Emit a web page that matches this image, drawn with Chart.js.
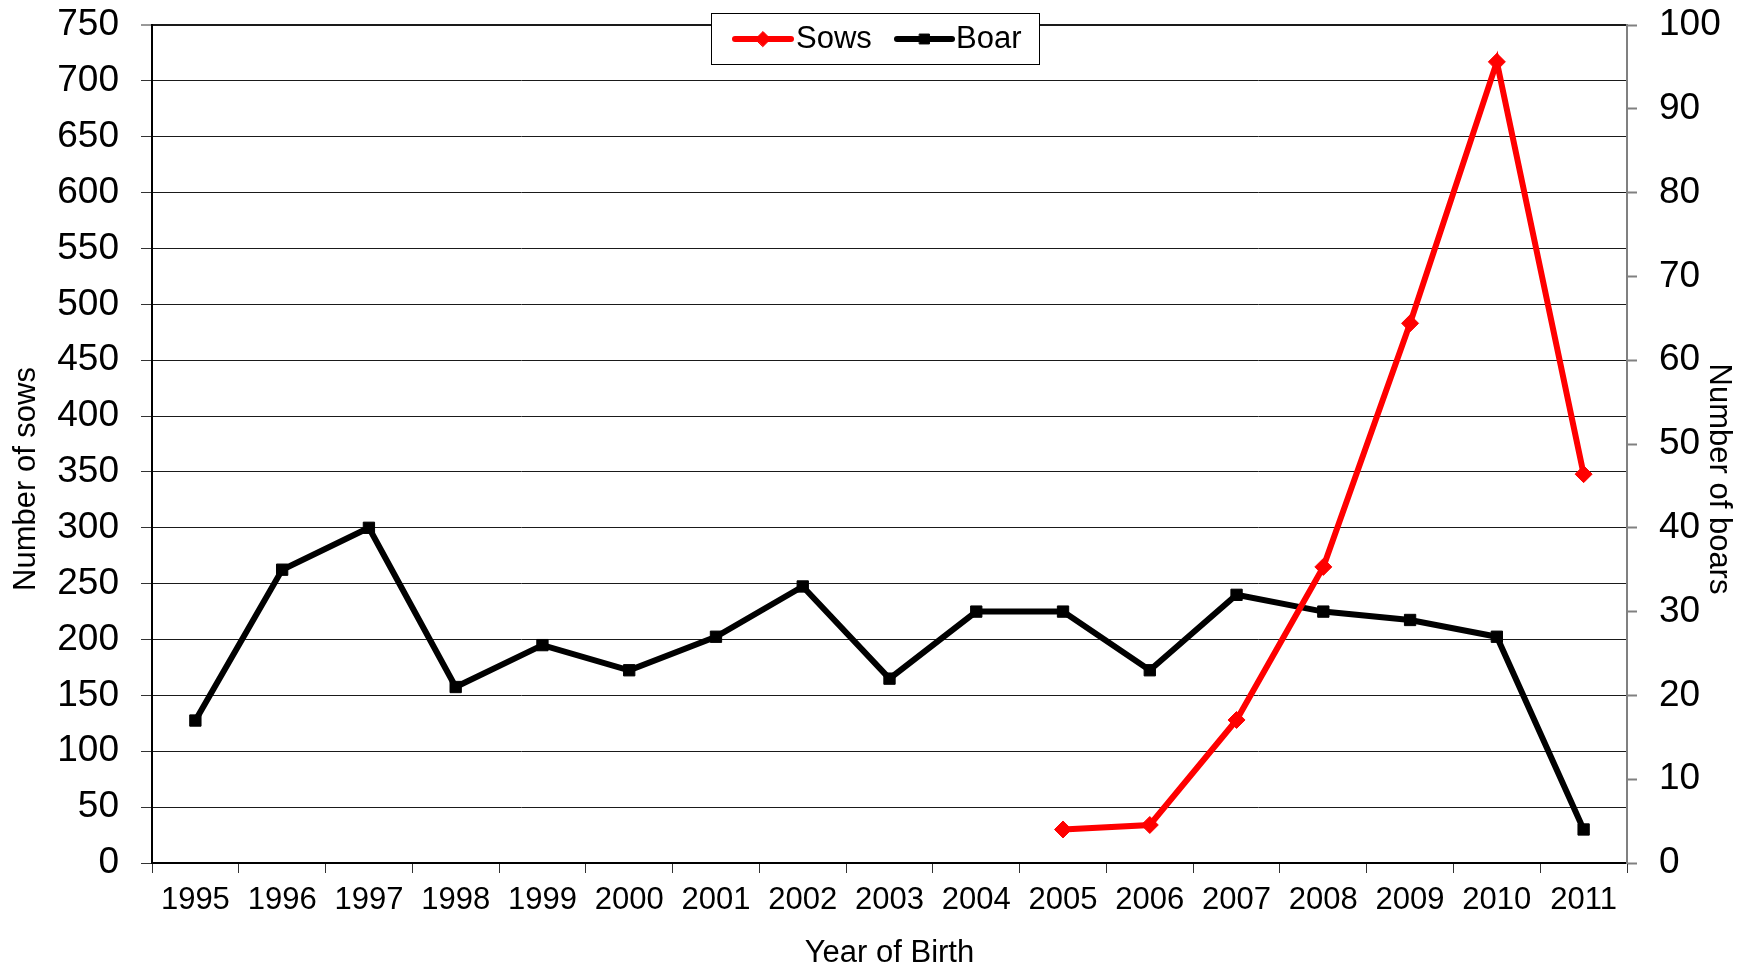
<!DOCTYPE html>
<html>
<head>
<meta charset="utf-8">
<script src="https://cdn.jsdelivr.net/npm/chart.js@4/dist/chart.umd.min.js"></script>
<style>
  html, body { margin: 0; padding: 0; background: #fff; }
  #wrap { width: 1752px; height: 969px; }
</style>
</head>
<body>
<div id="wrap"><canvas id="c" width="1752" height="969"></canvas></div>
<script>
// Year of birth categories
const years = ['1995', '1996', '1997', '1998', '1999', '2000', '2001', '2002', '2003',
               '2004', '2005', '2006', '2007', '2008', '2009', '2010', '2011'];
// Number of sows per year (left axis); no sows recorded before 2005
const sows = [null, null, null, null, null, null, null, null, null, null,
              30, 34, 128, 265, 483, 717, 348];
// Number of boars per year (right axis)
const boars = [17, 35, 40, 21, 26, 23, 27, 33, 22, 30, 30, 23, 32, 30, 29, 27, 4];

// Axis ranges and titles
const sowAxis = { min: 0, max: 750, step: 50, title: 'Number of sows' };
const boarAxis = { min: 0, max: 100, step: 10, title: 'Number of boars' };
const xTitle = 'Year of Birth';
const seriesNames = ['Sows', 'Boar'];

const FONT = "'Liberation Sans', Arial, Helvetica, sans-serif";
Chart.defaults.font.family = FONT;
Chart.defaults.color = '#000';

// Fixed axis band sizes; end labels may overhang the plot edges
function fixVertical(width) {
  return s => { s.width = width; s.paddingTop = 0; s.paddingBottom = 0; };
}

// Rotated titles for the two value axes
const axisTitles = {
  id: 'axisTitles',
  afterDraw(chart) {
    const ctx = chart.ctx;
    const midY = 479;
    ctx.save();
    ctx.fillStyle = '#000';
    ctx.font = '31px ' + FONT;
    ctx.textAlign = 'center';
    ctx.textBaseline = 'middle';
    ctx.translate(26, midY);
    ctx.rotate(-Math.PI / 2);
    ctx.fillText(sowAxis.title, 0, 0);
    ctx.restore();

    ctx.save();
    ctx.fillStyle = '#000';
    ctx.font = '31px ' + FONT;
    ctx.textAlign = 'center';
    ctx.textBaseline = 'middle';
    ctx.translate(1719, midY);
    ctx.rotate(Math.PI / 2);
    ctx.fillText(boarAxis.title, 0, 0);
    ctx.restore();
  }
};

// Boxed legend sitting over the top edge of the plot
const boxLegend = {
  id: 'boxLegend',
  afterDraw(chart) {
    const ctx = chart.ctx;
    const box = { x: 711, y: 13, w: 328, h: 51 };
    ctx.save();
    ctx.fillStyle = '#fff';
    ctx.fillRect(box.x, box.y, box.w, box.h);
    ctx.strokeStyle = '#000';
    ctx.lineWidth = 1;
    ctx.strokeRect(box.x + 0.5, box.y + 0.5, box.w, box.h);

    const cy = box.y + 26;
    const items = [
      { x0: 735, x1: 791, tx: 796, ds: chart.data.datasets[0] },
      { x0: 897, x1: 952, tx: 956, ds: chart.data.datasets[1] }
    ];
    items.forEach(it => {
      ctx.strokeStyle = it.ds.borderColor;
      ctx.lineWidth = 6;
      ctx.lineCap = 'round';
      ctx.beginPath();
      ctx.moveTo(it.x0, cy);
      ctx.lineTo(it.x1, cy);
      ctx.stroke();
      ctx.fillStyle = it.ds.pointBackgroundColor;
      ctx.strokeStyle = it.ds.borderColor;
      ctx.lineWidth = 1;
      Chart.helpers.drawPoint(ctx, {
        pointStyle: it.ds.pointStyle,
        radius: it.ds.pointRadius - 1,
        borderWidth: 1,
        rotation: 0
      }, (it.x0 + it.x1) / 2, cy);
      ctx.fillStyle = '#000';
      ctx.font = '31px ' + FONT;
      ctx.textAlign = 'left';
      ctx.textBaseline = 'alphabetic';
      ctx.fillText(it.ds.label, it.tx, box.y + 35);
    });
    ctx.restore();
  }
};

new Chart(document.getElementById('c'), {
  type: 'line',
  data: {
    labels: years,
    datasets: [
      {
        label: seriesNames[0],
        data: sows,
        yAxisID: 'y',
        borderColor: '#ff0000',
        backgroundColor: '#ff0000',
        pointBackgroundColor: '#ff0000',
        pointBorderColor: '#ff0000',
        borderWidth: 6,
        pointStyle: 'rectRot',
        pointRadius: 8.5,
        pointBorderWidth: 1,
        tension: 0,
        fill: false
      },
      {
        label: seriesNames[1],
        data: boars,
        yAxisID: 'y1',
        borderColor: '#000000',
        backgroundColor: '#000000',
        pointBackgroundColor: '#000000',
        pointBorderColor: '#000000',
        borderWidth: 6,
        pointStyle: 'rect',
        pointRadius: 8,
        pointBorderWidth: 1,
        tension: 0,
        fill: false
      }
    ]
  },
  options: {
    responsive: false,
    animation: false,
    devicePixelRatio: 1,
    layout: { padding: { top: 25, left: 0, right: 0, bottom: 0 } },
    plugins: {
      legend: { display: false },
      tooltip: { enabled: false },
      title: { display: false }
    },
    scales: {
      x: {
        type: 'category',
        offset: true,
        grid: {
          offset: true,
          drawOnChartArea: false,
          drawTicks: true,
          tickLength: 10,
          tickColor: '#333',
          tickWidth: 1
        },
        border: { display: true, color: '#000', width: 2 },
        ticks: {
          font: { size: 31 },
          color: '#000',
          padding: 9,
          maxRotation: 0,
          minRotation: 0,
          autoSkip: false
        },
        title: {
          display: true,
          text: xTitle,
          color: '#000',
          font: { size: 31, lineHeight: 1 },
          padding: { top: 0, bottom: 0 }
        },
        afterFit: s => { s.height = 106; s.paddingLeft = 0; s.paddingRight = 0; }
      },
      y: {
        position: 'left',
        min: sowAxis.min,
        max: sowAxis.max,
        ticks: {
          stepSize: sowAxis.step,
          font: { size: 37 },
          color: '#000',
          padding: 22
        },
        grid: {
          color: '#1a1a1a',
          lineWidth: c => (c.tick && c.tick.value === sowAxis.max ? 2 : 1),
          tickLength: 11,
          tickColor: '#333',
          tickWidth: 1
        },
        border: { display: true, color: '#000', width: 2 },
        afterFit: fixVertical(152)
      },
      y1: {
        position: 'right',
        min: boarAxis.min,
        max: boarAxis.max,
        ticks: {
          stepSize: boarAxis.step,
          font: { size: 37 },
          color: '#000',
          padding: 22
        },
        grid: {
          drawOnChartArea: false,
          tickLength: 10,
          tickColor: '#808080',
          tickWidth: 2
        },
        border: { display: true, color: '#808080', width: 2 },
        afterFit: fixVertical(125)
      }
    }
  },
  plugins: [axisTitles, boxLegend]
});
</script>
</body>
</html>
